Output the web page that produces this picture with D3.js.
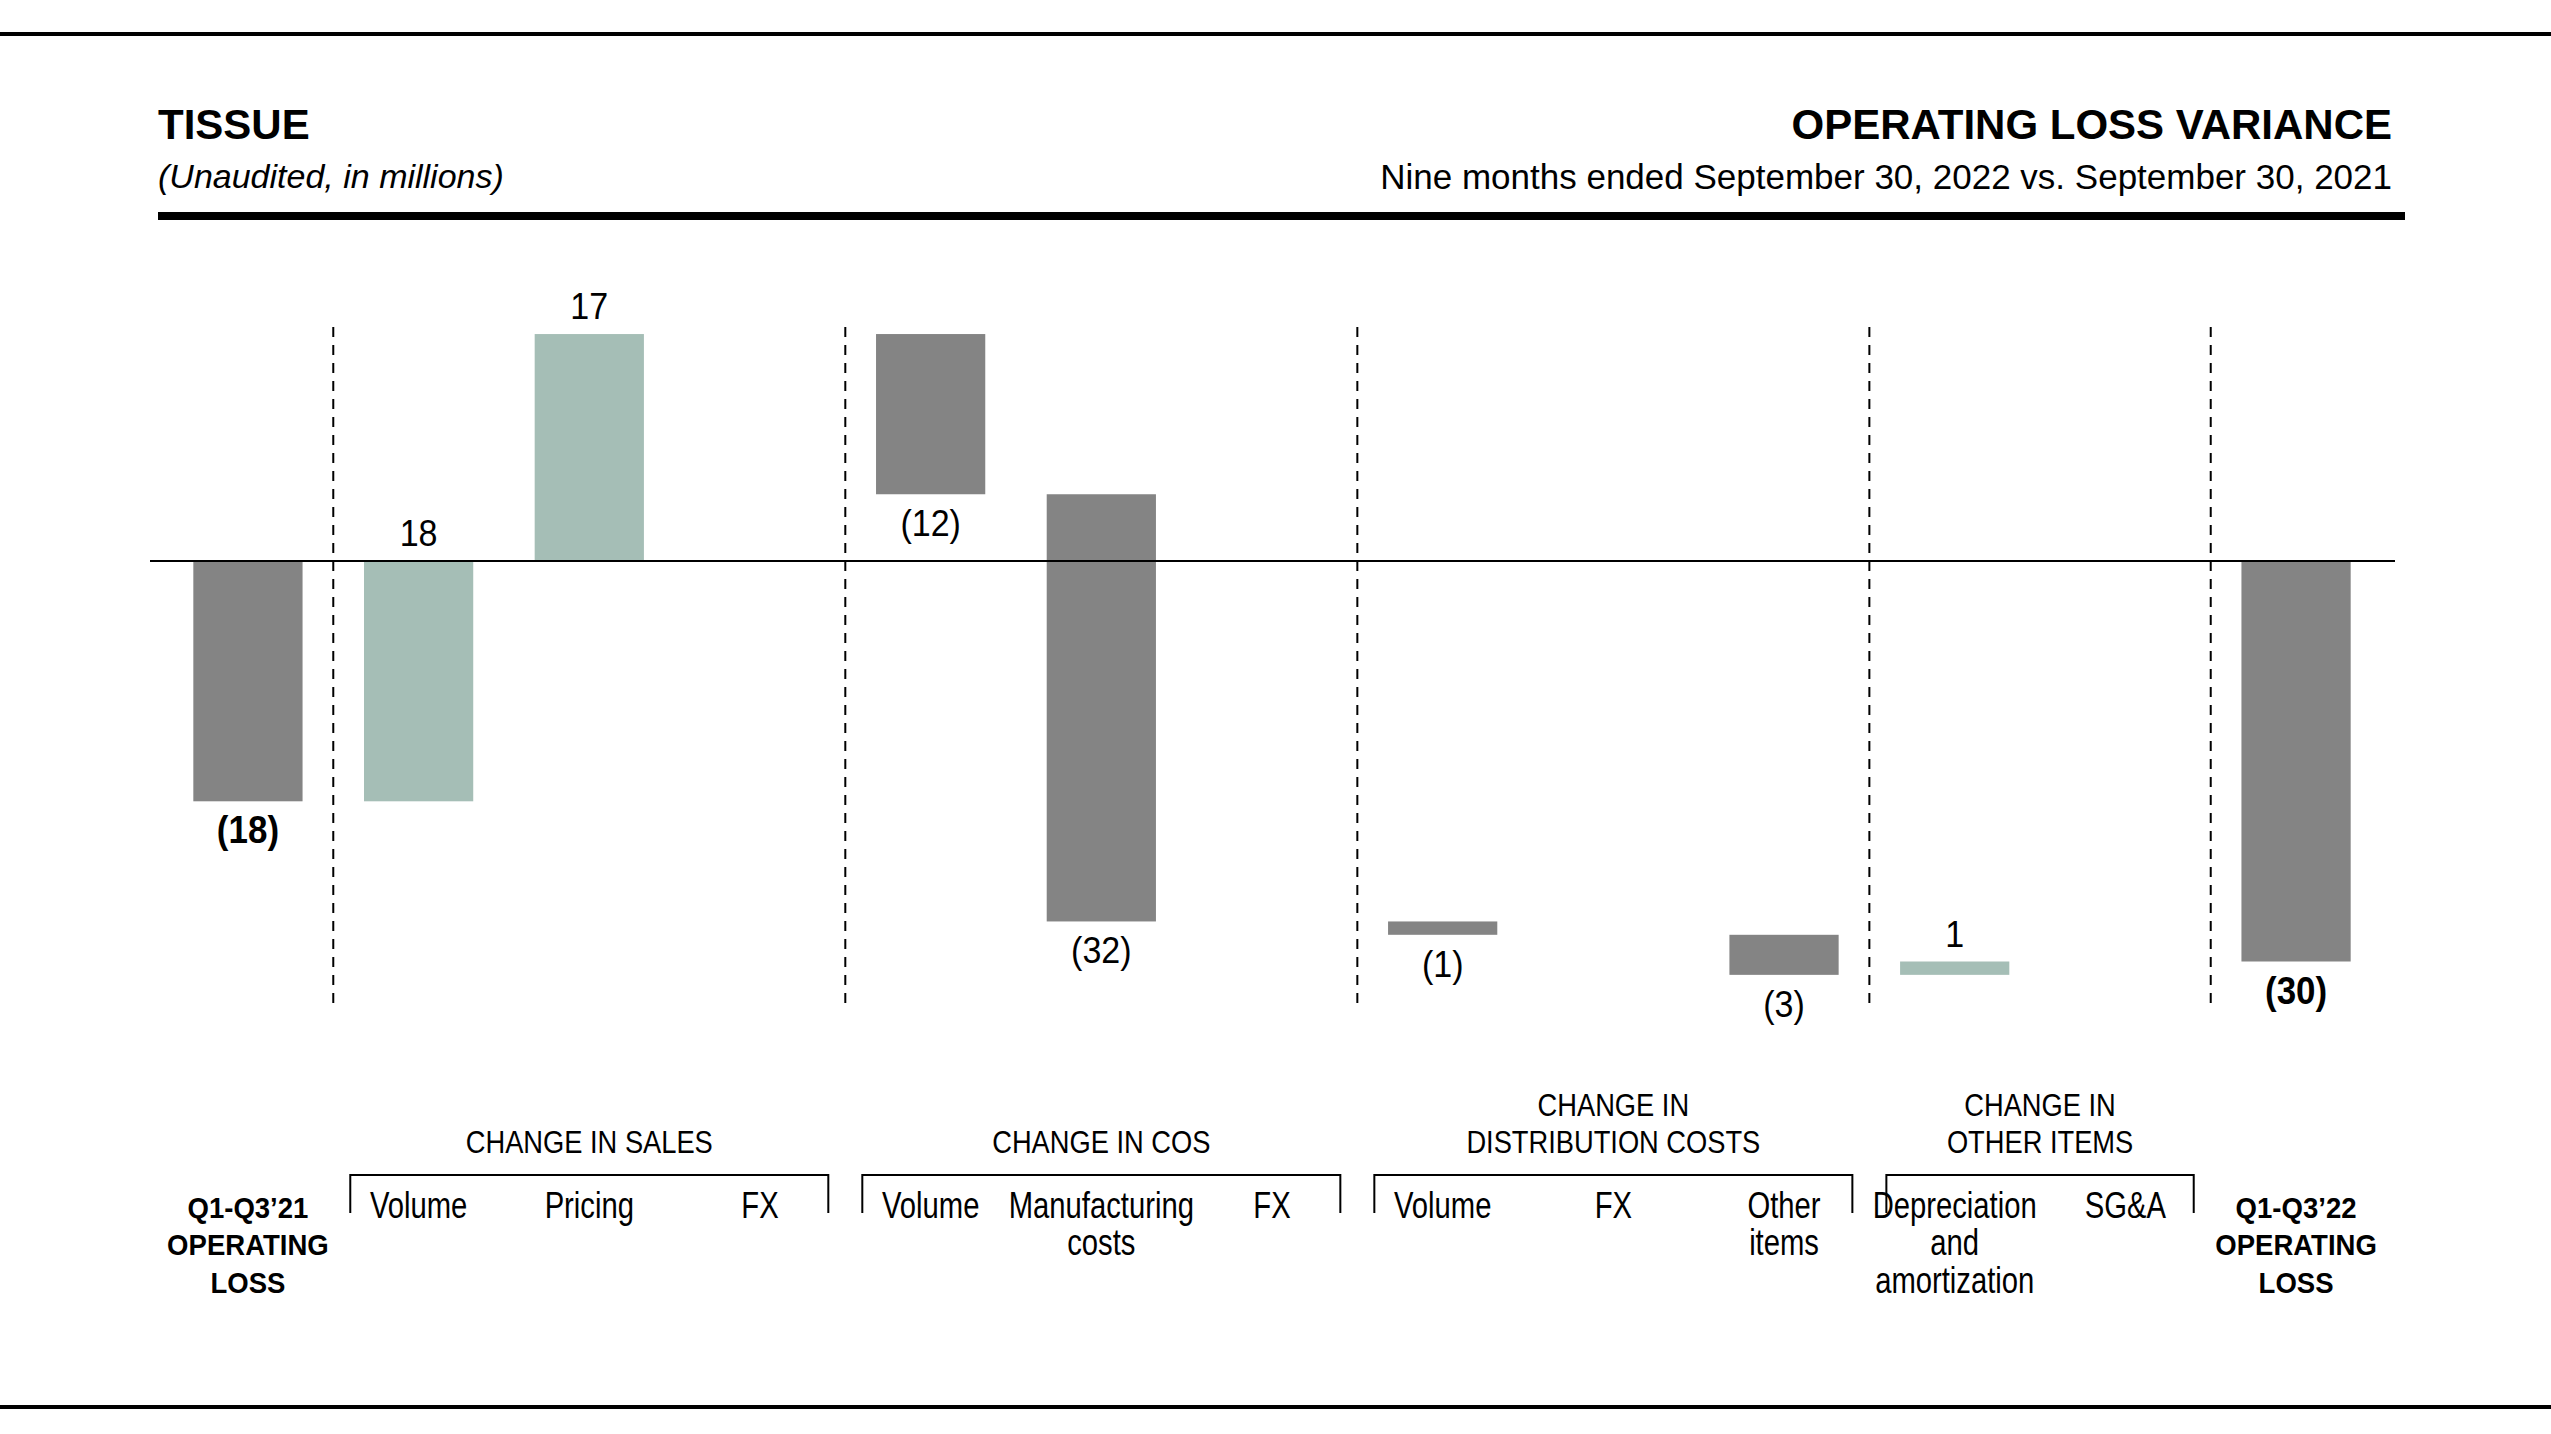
<!DOCTYPE html>
<html>
<head>
<meta charset="utf-8">
<script src="https://cdn.jsdelivr.net/npm/d3@7"></script>
<style>
  body { margin: 0; background: #fff; }
  svg text { fill: #000; font-family: "Liberation Sans", Arial, sans-serif; }
</style>
</head>
<body>
<svg id="chart" width="2551" height="1434"></svg>
<script>
'use strict';
// chart data, in millions
const categoryIds = ["start", "salesVolume", "salesPricing", "salesFx", "cosVolume", "cosManufacturing", "cosFx",
  "distVolume", "distFx", "distOther", "otherDepreciation", "otherSga", "end"];
const categoryLabels = [
  ["Q1-Q3’21", "OPERATING", "LOSS"], ["Volume"], ["Pricing"], ["FX"],
  ["Volume"], ["Manufacturing", "costs"], ["FX"],
  ["Volume"], ["FX"], ["Other", "items"],
  ["Depreciation", "and", "amortization"], ["SG&A"],
  ["Q1-Q3’22", "OPERATING", "LOSS"]
];
const values = [-18, 18, 17, 0, -12, -32, 0, -1, 0, -3, 1, 0, -30];
const isTotal = [true, false, false, false, false, false, false, false, false, false, false, false, true];

// groups under the bars
const groupLabels = [["CHANGE IN SALES"], ["CHANGE IN COS"], ["CHANGE IN", "DISTRIBUTION COSTS"], ["CHANGE IN", "OTHER ITEMS"]];
const groupFirst = ["salesVolume", "cosVolume", "distVolume", "otherDepreciation"];
const groupLast = ["salesFx", "cosFx", "distOther", "otherSga"];

const gray = "#848484";
const green = "#a5beb6";

const W = 2551, H = 1434;
const svg = d3.select("#chart");

// scales
const x = d3.scaleBand()
  .domain(categoryIds)
  .range([162.6, 2381.4])
  .paddingInner(0.36)
  .paddingOuter(0.18);

const y = d3.scaleLinear()
  .domain([-30, 17])
  .range([961.5, 334.05]);

// build the waterfall
let cum = 0;
const bars = categoryIds.map((id, i) => {
  const v = values[i];
  let a, b;
  if (isTotal[i]) { a = 0; b = v; cum = v; }
  else { a = cum; b = cum + v; cum = b; }
  return { id: id, v: v, lo: Math.min(a, b), hi: Math.max(a, b), total: isTotal[i] };
});

// header
svg.append("rect").attr("x", 0).attr("y", 32).attr("width", W).attr("height", 4).attr("fill", "#000");
svg.append("rect").attr("x", 0).attr("y", 1405).attr("width", W).attr("height", 4).attr("fill", "#000");
svg.append("rect").attr("x", 158).attr("y", 212).attr("width", 2405 - 158).attr("height", 8).attr("fill", "#000");

svg.append("text").attr("x", 158).attr("y", 139)
  .attr("font-size", 42).attr("font-weight", "bold").text("TISSUE");
svg.append("text").attr("x", 158).attr("y", 188)
  .attr("font-size", 34).attr("font-style", "italic").text("(Unaudited, in millions)");
svg.append("text").attr("x", 2392).attr("y", 139).attr("text-anchor", "end")
  .attr("font-size", 42).attr("font-weight", "bold").text("OPERATING LOSS VARIANCE");
svg.append("text").attr("x", 2392).attr("y", 189).attr("text-anchor", "end")
  .attr("font-size", 35).text("Nine months ended September 30, 2022 vs. September 30, 2021");

// bars
svg.append("g")
  .selectAll("rect")
  .data(bars.filter(d => d.v !== 0))
  .join("rect")
  .attr("x", d => x(d.id))
  .attr("width", x.bandwidth())
  .attr("y", d => y(d.hi))
  .attr("height", d => y(d.lo) - y(d.hi))
  .attr("fill", d => (d.total || d.v < 0) ? gray : green);

// zero line
svg.append("line")
  .attr("x1", 150).attr("x2", 2395)
  .attr("y1", y(0)).attr("y2", y(0))
  .attr("stroke", "#000").attr("stroke-width", 2);

// dashed separators between the groups
const halfGap = (x.step() - x.bandwidth()) / 2;
const sepX = [x("salesVolume") - halfGap, x("cosVolume") - halfGap, x("distVolume") - halfGap,
  x("otherDepreciation") - halfGap, x("end") - halfGap];
svg.append("g")
  .selectAll("line")
  .data(sepX)
  .join("line")
  .attr("x1", d => d).attr("x2", d => d)
  .attr("y1", 327).attr("y2", 1004)
  .attr("stroke", "#000").attr("stroke-width", 2)
  .attr("stroke-dasharray", "10,8");

// value labels
const fmt = v => v < 0 ? "(" + Math.abs(v) + ")" : String(v);
svg.append("g")
  .selectAll("text")
  .data(bars.filter(d => d.v !== 0))
  .join("text")
  .attr("transform", d => "translate(" + (x(d.id) + x.bandwidth() / 2) + "," +
    ((d.v > 0 && !d.total) ? y(d.hi) - 15 : y(d.lo) + 42) + ") scale(0.92,1)")
  .attr("text-anchor", "middle")
  .attr("font-size", d => d.total ? 38 : 37)
  .attr("font-weight", d => d.total ? "bold" : "normal")
  .text(d => fmt(d.v));

// category labels (condensed look)
const catG = svg.append("g")
  .selectAll("text")
  .data(categoryIds)
  .join("text")
  .attr("text-anchor", "middle")
  .attr("font-size", (d, i) => isTotal[i] ? 29 : 37)
  .attr("font-weight", (d, i) => isTotal[i] ? "bold" : "normal")
  .attr("transform", (d, i) => "translate(" + (x(d) + x.bandwidth() / 2) + ",1218) scale(" +
    (isTotal[i] ? 0.95 : 0.79) + ",1)");
catG.selectAll("tspan")
  .data((d, i) => categoryLabels[i])
  .join("tspan")
  .attr("x", 0)
  .attr("y", (d, j) => j * 37.5)
  .text(d => d);

// group brackets and titles
const inset = 17;
groupLabels.forEach((lines, i) => {
  const left = x(groupFirst[i]) - halfGap + inset;
  const right = x(groupLast[i]) + x.bandwidth() + halfGap - inset;
  svg.append("path")
    .attr("d", "M" + left + ",1213V1175H" + right + "V1213")
    .attr("fill", "none").attr("stroke", "#000").attr("stroke-width", 2);
  const t = svg.append("text")
    .attr("text-anchor", "middle")
    .attr("font-size", 31)
    .attr("transform", "translate(" + (left + right) / 2 + ",1153) scale(0.88,1)");
  t.selectAll("tspan")
    .data(lines)
    .join("tspan")
    .attr("x", 0)
    .attr("y", (d, j) => (j - lines.length + 1) * 37.5)
    .text(d => d);
});
</script>
</body>
</html>
